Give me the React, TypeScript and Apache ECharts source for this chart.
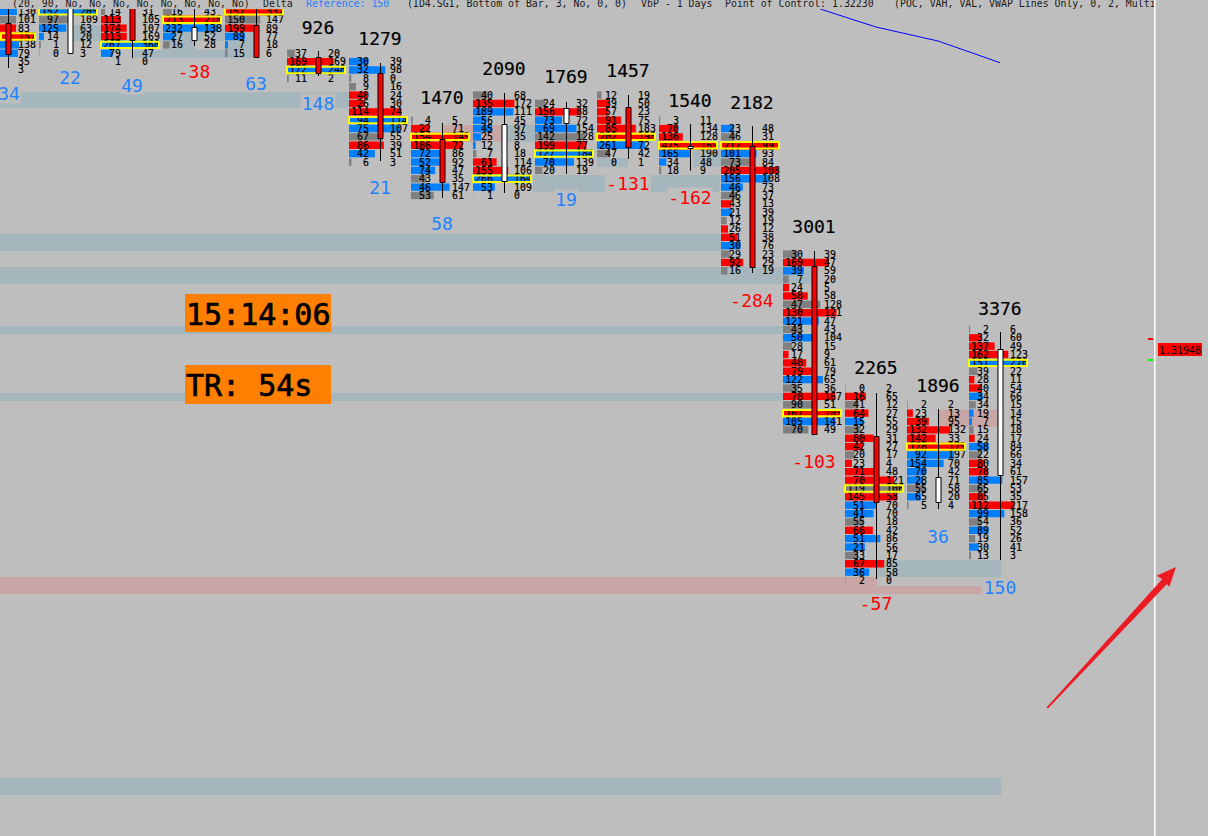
import React, { useEffect, useRef } from "react";
import * as echarts from "echarts";

// Bar order, one candle per footprint bar
const barIds = ["A","B","C","D","E","F","G","H","I","J","K","L","M","N","O","P","Q"];
// First price row of every bar
const firstRow = [1,1,1,1,1,6,7,14,11,12,11,14,15,30,46,48,39];
// Row values: bid, ask, row colours (r red, b blue, g grey), POC row index, largest row total
const bidA = [104,128,146,183,108,161,25,2];
const askA = [130,101,83,157,138,79,35,3];
const colA = "bgrrbbgg";
const bidB = [152,97,125,14,1,0];
const askB = [205,109,63,20,12,3];
const colB = "bgbbgg";
const bidC = [14,113,174,113,267,79,1];
const askC = [31,105,107,169,368,47,0];
const colC = "grrrbbg";
const bidD = [16,213,232,27,16];
const askD = [43,216,138,52,28];
const colD = "grbbg";
const bidE = [157,150,199,89,7,15];
const askE = [332,147,89,77,18,6];
const colE = "rgrbbg";
const bidF = [37,169,172,11];
const askF = [20,169,248,2];
const colF = "grbg";
const bidG = [30,32,8,9,40,26,114,94,75,67,86,42,6];
const askG = [39,98,0,16,24,30,74,114,107,55,39,51,3];
const colG = "bbggrrrbbgrbg";
const bidH = [4,22,154,186,72,52,74,43,46,53];
const askH = [5,71,149,72,86,92,47,35,147,61];
const colH = "grrrbbbgbg";
const bidI = [40,135,189,56,45,25,12,7,61,155,266,53,1];
const askI = [68,172,111,45,97,35,8,18,114,106,164,109,0];
const colI = "grbbbbbgrrbbg";
const bidJ = [24,156,73,69,142,199,127,70,20];
const askJ = [32,88,72,154,128,77,184,139,19];
const colJ = "grbbgrbbg";
const bidK = [12,39,57,91,85,202,261,47,0];
const askK = [19,50,23,75,183,198,72,42,1];
const colK = "grrrrrbgg";
const bidL = [3,70,136,475,165,34,18];
const askL = [11,134,128,169,190,48,9];
const colL = "grrrbbg";
const bidM = [23,46,217,101,73,205,156,46,46,43,21,12,26,51,30,29,92,16];
const askM = [48,31,99,93,84,108,108,73,37,13,39,19,12,38,76,23,29,19];
const colM = "bgrbgrbbgrbgrrbgrg";
const bidN = [30,169,39,7,24,58,47,130,121,43,50,28,17,48,79,122,35,78,90,167,105,70];
const askN = [39,47,59,20,5,58,128,121,47,43,104,15,9,61,79,65,36,167,51,105,141,49];
const colN = "grbgrrgrbgbgrrrbgrgrbg";
const bidO = [0,16,41,64,15,32,80,42,20,23,71,70,119,145,51,41,55,66,51,21,33,67,36,2];
const askO = [2,65,12,27,55,29,31,27,17,4,48,121,106,58,70,70,18,42,86,56,17,85,58,0];
const colO = "grgrbgrrgrrrgrbbgrbbgrbg";
const bidP = [2,23,39,132,142,178,92,154,70,28,55,65,5];
const askP = [2,13,95,132,33,179,197,70,42,71,58,20,4];
const colP = "grrrrrbbbbgbg";
const bidQ = [2,32,137,162,151,39,28,40,34,34,19,7,15,24,58,22,80,78,85,65,85,112,99,54,89,19,30,13];
const askQ = [6,60,49,123,270,22,11,54,66,15,14,15,18,17,84,66,34,61,157,53,35,217,158,36,52,26,41,3];
const colQ = "grrrbgrrbgbbgrbgrrbgrrbgbgbg";
const bids = [bidA,bidB,bidC,bidD,bidE,bidF,bidG,bidH,bidI,bidJ,bidK,bidL,bidM,bidN,bidO,bidP,bidQ];
const asks = [askA,askB,askC,askD,askE,askF,askG,askH,askI,askJ,askK,askL,askM,askN,askO,askP,askQ];
const cols = [colA,colB,colC,colD,colE,colF,colG,colH,colI,colJ,colK,colL,colM,colN,colO,colP,colQ];
const pocIndex = [3,0,4,1,0,2,7,2,10,6,5,3,2,19,12,5,4];
const rowMax = [340,400,635,390,489,420,208,290,430,311,400,644,316,272,225,355,421];
// Candles in price rows
const candleOpen = [2.39,0,0,2.87,2.63,6.45,8.36,16.25,14.46,12.54,12.43,17.05,17.08,31.42,51.73,56.63,41.34];
const candleClose = [6.09,5.97,4.42,4.42,6.45,8.36,16.13,21.39,21.27,14.34,17.2,17.24,31.54,51.49,59.62,59.62,56.39];
const candleHigh = [0,0,0,0,0,5.73,7.17,14.34,10.75,11.83,10.99,14.46,14.7,29.63,46.6,48.5,39.3];
const candleLow = [7.77,5.97,6.57,5.14,6.45,8.72,18.88,23.3,22.7,20.43,18.64,20.07,32.26,51.49,68.82,60.45,66.55];
const candleUp = [0,1,0,1,0,0,0,0,1,1,0,1,0,0,0,1,1];
// Volume labels above the bars: [bar, price row, text]
const volumeBars = [5,6,7,8,9,10,11,12,13,14,15,16];
const volumeText = ["926","1279","1470","2090","1769","1457","1540","2182","3001","2265","1896","3376"];
const volumeRow = [2.87,4.3,11.35,7.77,8.84,8.12,11.6,11.83,26.76,43.6,45.64,36.44];
// Delta labels under the bars
const deltaBars = [0,1,2,3,4,5,6,7,9,10,11,12,13,14,15,16];
const deltaValue = [34,22,49,-38,63,148,21,58,19,-131,-162,-284,-103,-57,36,150];
const deltaRow = [10.87,8.96,9.8,8.24,9.56,11.95,22,26.4,23.42,21.6,23.18,35.5,54.72,71.8,63.68,69.8];
// Volume profile zones: bar from, bar to, row from, row to
const blueZones = [
  [1.05,1.5,2.63,4.54],[2.5,4.03,2.63,4.54],[2.03,3.98,5.62,6.57],[2.5,3.02,4.54,5.62],[3.5,3.98,4.54,5.62],
  [-0.13,5.5,10.63,12.55],[7.98,8.5,14.58,16.6],[8.47,9.63,20.55,22.58],[10.37,11.48,20.55,22.58],
  [9.5,10,18.5,19.6],[11.05,11.5,17.56,19.6],[-0.13,11.5,27.6,29.63],[-0.13,12.97,31.54,33.57],
  [-0.13,12.5,38.6,39.55],[-0.13,12.5,46.6,47.55],[14.02,16.02,66.55,68.58],[-0.13,16.02,92.6,94.62],
];
const pinkZones = [
  [7.02,7.98,14.58,16.6],[-0.13,14.02,68.58,70.6],[14.02,15.7,69.65,70.6],[15,16,48.6,50.66],
];
// VWAP line
const vwapLine = [[13.1,0.72],[14,2.87],[15,4.54],[16,7.13]];

const FONT = "'DejaVu Sans Mono', monospace";
const RED = "#ff0000";
const BLUE = "#0080ff";
const GRAY = "#808080";
const BG = "#bebebe";
const colourOf: Record<string, string> = { r: RED, b: BLUE, g: GRAY };

type Row = { bar: number; row: number; bid: number; ask: number; col: string; poc: boolean; frac: number };
const rows: Row[] = [];
bids.forEach((list, bar) => {
  list.forEach((bid, k) => {
    const ask = asks[bar][k];
    rows.push({
      bar, row: firstRow[bar] + k, bid, ask,
      col: colourOf[cols[bar][k]], poc: k === pocIndex[bar],
      frac: k === pocIndex[bar] ? 1 : Math.min(1, (bid + ask) / rowMax[bar]),
    });
  });
});
const zones = [
  ...pinkZones.map((z) => ({ z, c: "#c9a6a6" })),
  ...blueZones.map((z) => ({ z, c: "#a6b6bd" })),
];
const HALF = 31 / 62;
const BAR_SPAN = 58 / 62;
const inkStyle = { stroke: "#000", lineWidth: 0.2 };
const heavyStyle = { stroke: "#000", lineWidth: 0.2 };

function buildOption(): any {
  return {
    animation: false,
    backgroundColor: BG,
    grid: { left: 0, right: 0, top: 0, bottom: 0 },
    xAxis: { type: "value", min: -8 / 62, max: 1202 / 62, show: false },
    yAxis: { type: "value", min: -3 / 8.37, max: 833 / 8.37, inverse: true, show: false },
    tooltip: { show: false },
    series: [
      {
        type: "custom", silent: true, clip: false, z: 1,
        encode: { x: 0, y: 2 },
        data: zones.map((d) => d.z),
        renderItem: (p: any, api: any) => {
          const d = zones[p.dataIndex];
          const a = api.coord([d.z[0], d.z[2]]);
          const b = api.coord([d.z[1], d.z[3]]);
          return { type: "rect", shape: { x: Math.max(0, a[0]), y: a[1], width: b[0] - Math.max(0, a[0]), height: b[1] - a[1] }, style: { fill: d.c } };
        },
      },
      {
        type: "custom", silent: true, clip: false, z: 2,
        encode: { x: 0, y: 1 },
        data: deltaBars.map((b, i) => [b, deltaRow[i], deltaValue[i]]),
        renderItem: (p: any, api: any) => {
          const i = p.dataIndex;
          const c = api.coord([deltaBars[i], deltaRow[i]]);
          return {
            type: "text",
            style: {
              x: i === 0 ? 9 : c[0], y: c[1], text: String(deltaValue[i]), align: "center", verticalAlign: "middle",
              font: `18px ${FONT}`, fill: deltaValue[i] < 0 ? RED : "#1e82ff",
              backgroundColor: BG, padding: [1, 1, 0, 1],
            },
          };
        },
      },
      {
        type: "custom", silent: true, clip: false, z: 3,
        encode: { x: 0, y: 1 },
        data: rows.map((r) => [r.bar, r.row, r.bid, r.ask]),
        renderItem: (p: any, api: any) => {
          const r = rows[p.dataIndex];
          const c = api.coord([r.bar, r.row]);
          const x0 = api.coord([r.bar - HALF, r.row])[0];
          const x1 = api.coord([r.bar - HALF + BAR_SPAN * r.frac, r.row])[0];
          const unit = api.size([0, 1])[1];
          const left = Math.max(0, x0);
          const h = r.poc ? unit : unit - 1;
          if (x1 <= left) return { type: "group", children: [] };
          return { type: "rect", shape: { x: left, y: c[1] - h / 2, width: x1 - left, height: h }, style: { fill: r.col } };
        },
      },
      {
        type: "custom", silent: true, clip: false, z: 4,
        encode: { x: 0, y: 1 },
        data: rows.map((r) => [r.bar, r.row, r.bid, r.ask]),
        renderItem: (p: any, api: any) => {
          const r = rows[p.dataIndex];
          const c = api.coord([r.bar, r.row]);
          const children: any[] = [];
          if (c[0] - 11 > 20) {
            children.push({ type: "text", style: { x: c[0] - 11, y: c[1], text: String(r.bid), align: "right", verticalAlign: "middle", font: `9.9px ${FONT}`, fill: "#000", ...inkStyle } });
          }
          children.push({ type: "text", style: { x: c[0] + 10, y: c[1], text: String(r.ask), align: "left", verticalAlign: "middle", font: `9.9px ${FONT}`, fill: "#000", ...inkStyle } });
          return { type: "group", children };
        },
      },
      {
        type: "custom", silent: true, clip: false, z: 5,
        encode: { x: 0, y: 1 },
        data: rows.filter((r) => r.poc).map((r) => [r.bar, r.row]),
        renderItem: (p: any, api: any) => {
          const r = rows.filter((q) => q.poc)[p.dataIndex];
          const c = api.coord([r.bar, r.row]);
          const x0 = api.coord([r.bar - HALF, r.row])[0];
          const x1 = api.coord([r.bar - HALF + BAR_SPAN, r.row])[0];
          const unit = api.size([0, 1])[1];
          const left = Math.max(1, x0);
          return { type: "rect", shape: { x: left, y: c[1] - unit / 2 + 1, width: x1 - left, height: unit - 2 }, style: { fill: "none", stroke: "#ffff00", lineWidth: 2 } };
        },
      },
      {
        type: "custom", silent: true, clip: false, z: 6,
        encode: { x: 0, y: [1, 2] },
        data: barIds.map((_, i) => [i, candleHigh[i], candleLow[i], candleOpen[i], candleClose[i]]),
        renderItem: (p: any, api: any) => {
          const i = p.dataIndex;
          const t = api.coord([i, candleHigh[i]]);
          const l = api.coord([i, candleLow[i]]);
          const o = api.coord([i, candleOpen[i]]);
          const cl = api.coord([i, candleClose[i]]);
          const x = Math.round(t[0]) + 0.5;
          return {
            type: "group",
            children: [
              { type: "line", shape: { x1: x, y1: t[1], x2: x, y2: l[1] }, style: { stroke: "#000", lineWidth: 1 } },
              { type: "rect", shape: { x: x - 2.5, y: Math.round(o[1]) + 0.5, width: 5, height: Math.max(1, Math.round(cl[1] - o[1])) }, style: { fill: candleUp[i] ? "#ffffff" : RED, stroke: "#000", lineWidth: 1 } },
            ],
          };
        },
      },
      {
        type: "custom", silent: true, clip: false, z: 7,
        encode: { x: 0, y: 1 },
        data: volumeBars.map((b, i) => [b, volumeRow[i]]),
        renderItem: (p: any, api: any) => {
          const i = p.dataIndex;
          const c = api.coord([volumeBars[i], volumeRow[i]]);
          return { type: "text", style: { x: c[0], y: c[1], text: volumeText[i], align: "center", verticalAlign: "middle", font: `18px ${FONT}`, fill: "#000", ...heavyStyle } };
        },
      },
      {
        type: "line", z: 8, silent: true, symbol: "none", data: vwapLine,
        lineStyle: { color: "#0000ff", width: 1 },
      },
    ],
    graphic: [
      { type: "rect", z: 90, shape: { x: 0, y: 0, width: 1154, height: 9 }, style: { fill: BG } },
      ...[
        { x: 12, t: "(20, 90, No, No, No, No, No, No, No, No)", c: "#1a1a1a" },
        { x: 263, t: "Delta", c: "#1a1a1a" },
        { x: 306, t: "Reference: 150", c: "#1e82ff" },
        { x: 407, t: "(ID4.SG1, Bottom of Bar, 3, No, 0, 0)", c: "#1a1a1a" },
        { x: 641, t: "VbP - 1 Days", c: "#1a1a1a" },
        { x: 725, t: "Point of Control: 1.32230", c: "#1a1a1a" },
        { x: 894, t: "(POC, VAH, VAL, VWAP Lines Only, 0, 2, Multi", c: "#1a1a1a" },
      ].map((h) => ({
        type: "text", z: 91, x: h.x, y: 3,
        style: { text: h.t, font: `9.9px ${FONT}`, fill: h.c, verticalAlign: "middle" },
      })),
      { type: "rect", z: 92, shape: { x: 185, y: 294, width: 146, height: 38 }, style: { fill: "#ff8000" } },
      { type: "text", z: 93, x: 186, y: 314, style: { text: "15:14:06", font: `30px ${FONT}`, fill: "#000", stroke: "#000", lineWidth: 0.7, verticalAlign: "middle" } },
      { type: "rect", z: 92, shape: { x: 185, y: 365, width: 146, height: 39 }, style: { fill: "#ff8000" } },
      { type: "text", z: 93, x: 186, y: 385, style: { text: "TR: 54s", font: `30px ${FONT}`, fill: "#000", stroke: "#000", lineWidth: 0.7, verticalAlign: "middle" } },
      { type: "rect", z: 92, shape: { x: 1154, y: 0, width: 1.5, height: 836 }, style: { fill: "#ffffff" } },
      { type: "rect", z: 92, shape: { x: 1208, y: 0, width: 2, height: 836 }, style: { fill: "#ffffff" } },
      { type: "rect", z: 92, shape: { x: 1148, y: 338, width: 5, height: 2 }, style: { fill: "#ff0000" } },
      { type: "rect", z: 92, shape: { x: 1148, y: 359, width: 5, height: 2 }, style: { fill: "#00ff00" } },
      { type: "rect", z: 92, shape: { x: 1158, y: 343, width: 44, height: 13 }, style: { fill: "#ff0000" } },
      { type: "text", z: 93, x: 1159, y: 350, style: { text: "1.31948", font: `10px ${FONT}`, fill: "#000", verticalAlign: "middle" } },
      {
        type: "polygon", z: 95,
        shape: { points: [[1046.5, 707.5], [1162.3, 579], [1156.7, 575.7], [1176, 567], [1169.3, 586.7], [1166.7, 584.3], [1048, 708.5]] },
        style: { fill: "#ed1c24" },
      },
    ],
  };
}

export default function App() {
  const ref = useRef<HTMLDivElement>(null);
  useEffect(() => {
    document.body.style.margin = "0";
    document.body.style.background = BG;
    const chart = echarts.init(ref.current!, undefined, { renderer: "svg" });
    chart.setOption(buildOption());
    return () => chart.dispose();
  }, []);
  return <div ref={ref} style={{ position: "fixed", left: 0, top: 0, width: 1210, height: 836 }} />;
}
